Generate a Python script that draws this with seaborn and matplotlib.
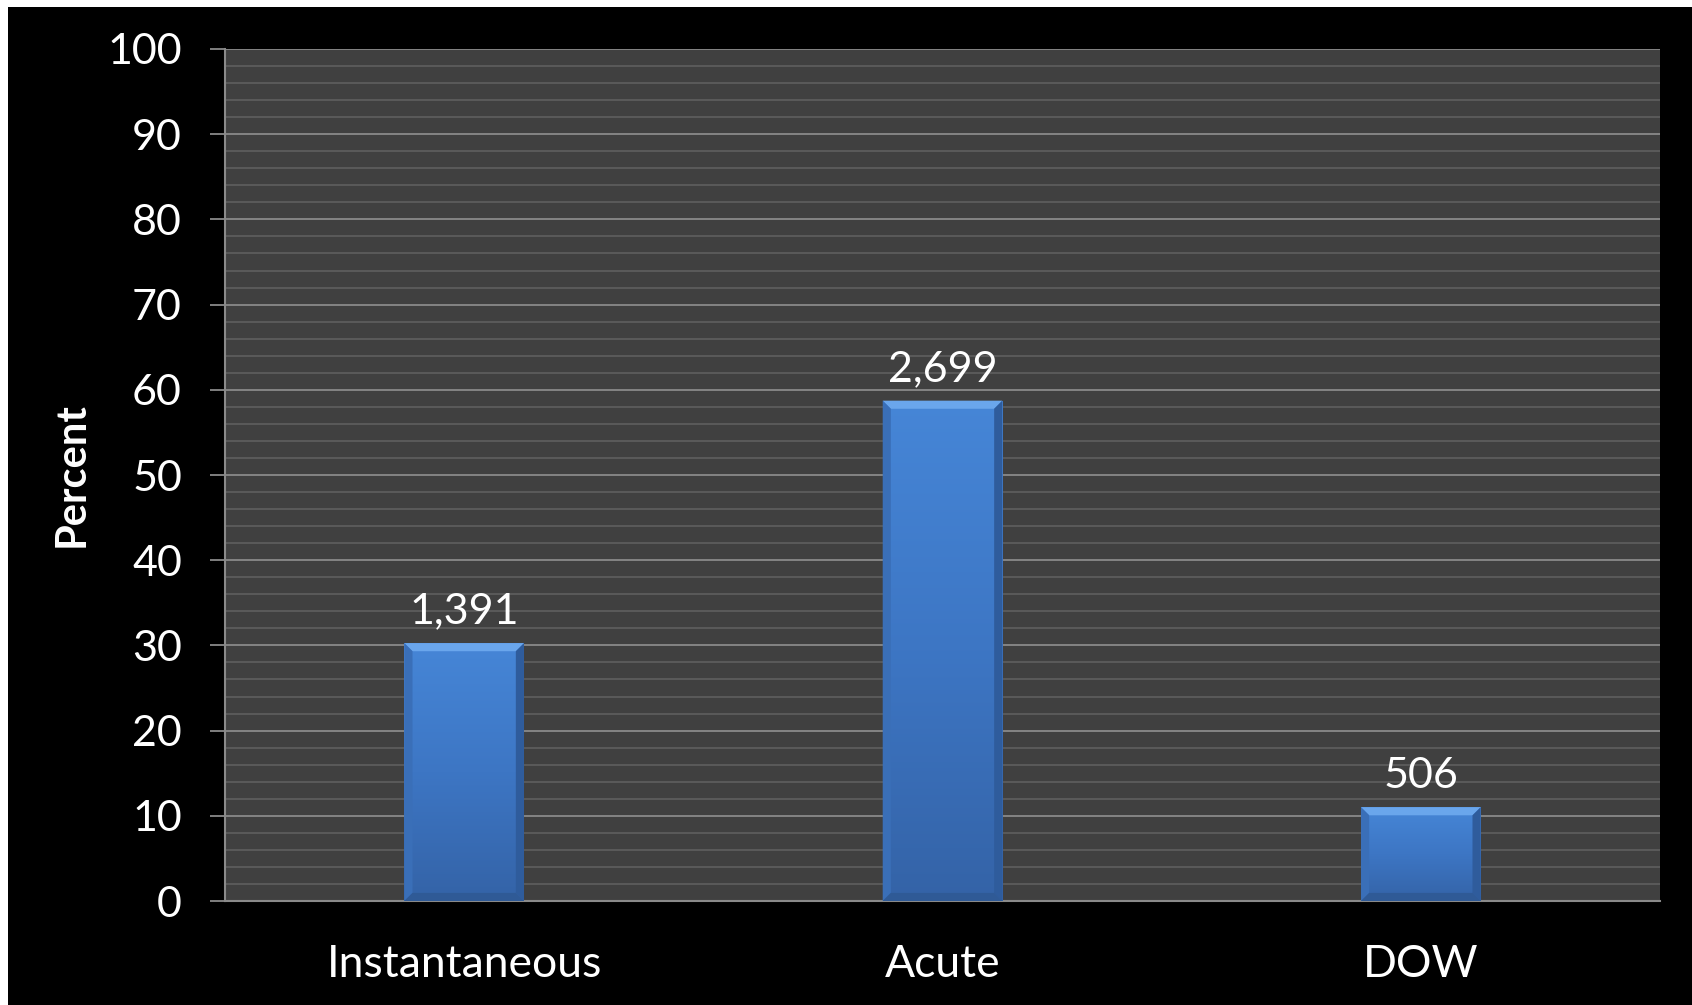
import numpy as np
import pandas as pd
import matplotlib
matplotlib.use("Agg")
import matplotlib.pyplot as plt
from matplotlib.colors import LinearSegmentedColormap
from matplotlib.patches import Polygon, Rectangle
import seaborn as sns

# Casualty counts by category; bars show each category's share in percent
categories = ["Instantaneous", "Acute", "DOW"]
counts = [1391, 2699, 506]
count_labels = ["1,391", "2,699", "506"]
y_ticks = [0, 10, 20, 30, 40, 50, 60, 70, 80, 90, 100]

total = sum(counts)
percents = [c / total * 100 for c in counts]
df = pd.DataFrame({"category": categories, "percent": percents})

sns.set_theme(style="white")
plt.rcParams["font.family"] = ["Lato", "DejaVu Sans"]

W, H = 1692, 1005
fig = plt.figure(figsize=(W / 100, H / 100), dpi=100, facecolor="white")
# black slide background with a thin white margin on the top and left
fig.patches.append(Rectangle((8 / W, 0), 1, 1 - 7 / H, transform=fig.transFigure,
                             facecolor="black", edgecolor="none", zorder=-5))

ax = fig.add_axes([225 / W, 1 - 901 / H, (1660 - 225) / W, (901 - 49) / H])
ax.set_zorder(2)
ax.set_facecolor("#404040")

sns.barplot(data=df, x="category", y="percent", ax=ax, width=0.25,
            color="#3f7bcc", saturation=1, edgecolor="none", zorder=3)

ax.set_xlim(-0.5, 2.5)
ax.set_ylim(0, 100)

# gradient fill and bevelled edges on each bar
cmap = LinearSegmentedColormap.from_list("barblue", ["#3463a7", "#3d76c4", "#4686d7"])
grad = np.linspace(0, 1, 256).reshape(-1, 1)
bx = 0.017
by = 0.95
for p in list(ax.patches):
    x0, w, h = p.get_x(), p.get_width(), p.get_height()
    x1 = x0 + w
    im = ax.imshow(grad, extent=[x0, x1, 0, h], origin="lower", cmap=cmap,
                   aspect="auto", zorder=3.5)
    im.set_clip_path(p)
    ax.add_patch(Polygon([[x0, h], [x1, h], [x1 - bx, h - by], [x0 + bx, h - by]],
                         closed=True, facecolor="#6aa6ec", edgecolor="none", zorder=4))
    ax.add_patch(Polygon([[x0, 0], [x0 + bx, by], [x0 + bx, h - by], [x0, h]],
                         closed=True, facecolor="#3a6fb8", edgecolor="none", zorder=4))
    ax.add_patch(Polygon([[x1, 0], [x1 - bx, by], [x1 - bx, h - by], [x1, h]],
                         closed=True, facecolor="#2f5c9c", edgecolor="none", zorder=4))
    ax.add_patch(Polygon([[x0, 0], [x1, 0], [x1 - bx, by], [x0 + bx, by]],
                         closed=True, facecolor="#2f5a96", edgecolor="none", zorder=4))

ax.set_xlim(-0.5, 2.5)
ax.set_ylim(0, 100)

# count labels above bars
for i, (pct, lab) in enumerate(zip(percents, count_labels)):
    ax.annotate(lab, (i, pct), xytext=(0, 9), textcoords="offset points",
                ha="center", va="bottom", color="white", fontsize=31, zorder=6)

# gridlines: major every 10, minor every 2
ax.set_yticks(y_ticks)
ax.set_yticks(np.arange(0, 101, 2), minor=True)
ax.grid(which="major", axis="y", color="#8a8a8a", linewidth=1.3, zorder=1)
ax.grid(which="minor", axis="y", color="#5c5c5c", linewidth=1.3, zorder=1)
ax.grid(which="major", axis="x", visible=False)
ax.set_axisbelow(True)

for side in ["top", "right"]:
    ax.spines[side].set_visible(False)
for side in ["left", "bottom"]:
    ax.spines[side].set_color("#8a8a8a")
    ax.spines[side].set_linewidth(1.5)

ax.tick_params(axis="y", which="major", length=11, width=1.3, color="#8a8a8a",
               pad=20, labelsize=31, labelcolor="white", left=True)
ax.tick_params(axis="y", which="minor", length=0)
ax.tick_params(axis="x", length=0, pad=31, labelsize=32, labelcolor="white")

ax.set_xlabel("")
ax.set_ylabel("Percent", color="white", fontsize=30, fontweight="bold", labelpad=12)

fig.savefig("out.png", dpi=100, facecolor=fig.get_facecolor())
